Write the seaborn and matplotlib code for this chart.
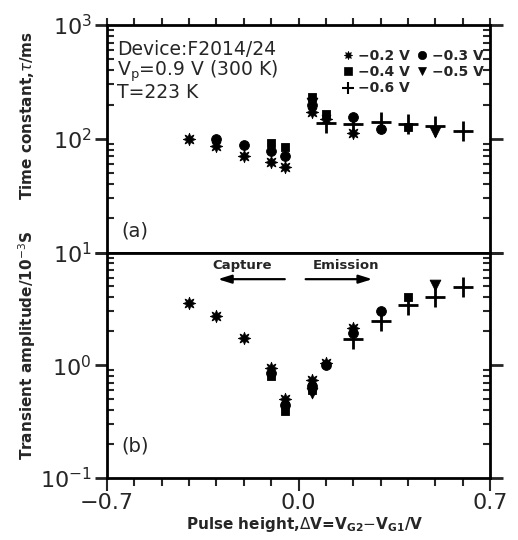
import numpy as np
import pandas as pd
import seaborn as sns
import matplotlib
matplotlib.use("Agg")
import matplotlib.pyplot as plt
from matplotlib.ticker import FixedLocator, LogLocator, NullFormatter, FixedFormatter, MultipleLocator
from matplotlib.lines import Line2D

nan = np.nan

# Pulse height ΔV (V)
pulse = [-0.4, -0.3, -0.2, -0.1, -0.05, 0.05, 0.1, 0.2, 0.3, 0.4, 0.5, 0.6]

# Base gate voltages
series = ["\u22120.2 V", "\u22120.3 V", "\u22120.4 V", "\u22120.5 V", "\u22120.6 V"]

# (a) Time constant τ (ms)
tau_m02 = [100, 87, 70, 62, 57, 172, 150, 112, nan, nan, nan, nan]
tau_m03 = [nan, 100, 88, 78, 70, 197, nan, 155, 123, nan, nan, nan]
tau_m04 = [nan, nan, nan, 92, 84, 233, 165, nan, nan, 126, nan, nan]
tau_m05 = [nan, nan, nan, nan, nan, 205, nan, nan, nan, nan, 115, nan]
tau_m06 = [nan, nan, nan, nan, nan, nan, 138, 134, 141, 136, 129, 116]

# (b) Transient amplitude (10^-3 S)
amp_m02 = [3.55, 2.71, 1.74, 0.95, 0.50, 0.74, 1.04, 2.15, nan, nan, nan, nan]
amp_m03 = [nan, nan, nan, 0.86, 0.44, 0.66, 1.00, 1.95, 3.00, nan, nan, nan]
amp_m04 = [nan, nan, nan, 0.80, 0.39, 0.60, nan, nan, nan, 4.06, nan, nan]
amp_m05 = [nan, nan, nan, nan, nan, 0.57, nan, nan, nan, nan, 5.15, nan]
amp_m06 = [nan, nan, nan, nan, nan, nan, nan, 1.72, 2.45, 3.43, 4.00, 4.98]

x_ticks = [-0.7, 0.0, 0.7]
x_ticklabels = ["\u22120.7", "0.0", "0.7"]

tau_table = pd.DataFrame({"pulse": pulse, series[0]: tau_m02, series[1]: tau_m03,
                          series[2]: tau_m04, series[3]: tau_m05, series[4]: tau_m06})
amp_table = pd.DataFrame({"pulse": pulse, series[0]: amp_m02, series[1]: amp_m03,
                          series[2]: amp_m04, series[3]: amp_m05, series[4]: amp_m06})

sns.set_style("white")
plt.rcParams["font.family"] = ["DejaVu Sans"]
plt.rcParams["mathtext.fontset"] = "dejavusans"

W, H = 518, 540
fig = plt.figure(figsize=(W / 100, H / 100), dpi=100)

def fx(px):
    return px / W

def fy(py):
    return 1 - py / H

left, right = 107, 490
ax_top = fig.add_axes([fx(left), fy(252.5), fx(right - left), (252.5 - 25) / H])
ax_bot = fig.add_axes([fx(left), fy(478), fx(right - left), (478 - 252.5) / H])

styles = {
    series[0]: dict(marker=(8, 1, 0), s=80, linewidth=0.6),
    series[1]: dict(marker="o", s=50, linewidth=0.6),
    series[2]: dict(marker="s", s=40, linewidth=0.6),
    series[3]: dict(marker="v", s=60, linewidth=0.6),
    series[4]: dict(marker="+", s=220, linewidth=2.0),
}

for ax, table in ((ax_top, tau_table), (ax_bot, amp_table)):
    for name in series:
        st = styles[name]
        sns.scatterplot(data=table, x="pulse", y=name, ax=ax, color="black",
                        edgecolor="black", marker=st["marker"], s=st["s"],
                        linewidth=st["linewidth"], zorder=3, legend=False)
    ax.set_yscale("log")
    ax.set_xlim(-0.7, 0.7)
    ax.set_xlabel("")
    ax.set_ylabel("")
    for sp in ax.spines.values():
        sp.set_linewidth(2.0)
        sp.set_color("black")
    ax.xaxis.set_major_locator(FixedLocator(x_ticks))
    ax.xaxis.set_minor_locator(MultipleLocator(0.1))
    ax.yaxis.set_minor_locator(LogLocator(base=10, subs=np.arange(2, 10)))
    ax.yaxis.set_minor_formatter(NullFormatter())
    ax.tick_params(axis="y", which="major", direction="out", length=9, width=2,
                   left=True, right=True, labelsize=16, pad=2)
    ax.tick_params(axis="y", which="minor", direction="in", length=5, width=1.5,
                   left=True, right=True)

ax_top.set_ylim(10, 1000)
ax_top.yaxis.set_major_locator(FixedLocator([10, 100, 1000]))
ax_top.yaxis.set_major_formatter(FixedFormatter([r"$10^{1}$", r"$10^{2}$", r"$10^{3}$"]))
ax_top.tick_params(axis="x", which="both", direction="out", top=True, bottom=False,
                   labelbottom=False, labeltop=False, length=5, width=1.5)

ax_bot.set_ylim(0.1, 10)
ax_bot.yaxis.set_major_locator(FixedLocator([0.1, 1, 10]))
ax_bot.yaxis.set_major_formatter(FixedFormatter([r"$10^{-1}$", r"$10^{0}$", ""]))
ax_bot.tick_params(axis="x", which="both", direction="out", top=False, bottom=True,
                   length=6, width=1.5)
ax_bot.tick_params(axis="x", which="major", length=9, labelsize=16, pad=2)
ax_bot.xaxis.set_major_formatter(FixedFormatter(x_ticklabels))

# Legend: rows (−0.2, −0.3), (−0.4, −0.5), (−0.6)
order = [0, 2, 4, 1, 3]
handles = []
for i in order:
    st = styles[series[i]]
    mk = st["marker"]
    handles.append(Line2D([], [], linestyle="", marker=mk, color="black",
                          markersize=6 if mk != "+" else 8, markeredgewidth=1.5 if mk == "+" else 0.5))
ax_top.legend(handles, [series[i] for i in order], ncol=2, loc="upper right",
              bbox_to_anchor=(1.005, 0.93), frameon=False, handlelength=0.6,
              handletextpad=0.4, columnspacing=0.6, labelspacing=0.15,
              prop=dict(size=10, weight="bold"), borderaxespad=0.2)

# Device annotation
fig.text(fx(117), fy(40), "Device:F2014/24\n" + r"V$_\mathregular{p}$=0.9 V (300 K)" + "\nT=223 K",
         fontsize=13.5, va="top", ha="left", linespacing=0.95)
fig.text(fx(121), fy(236), "(a)", fontsize=14, va="baseline")
fig.text(fx(121), fy(451), "(b)", fontsize=14, va="baseline")

# Capture / Emission arrows
arrow_y = 5.8
ax_bot.annotate("", xy=(-0.305, arrow_y), xytext=(-0.04, arrow_y),
                arrowprops=dict(arrowstyle="-|>,head_length=0.8,head_width=0.25", lw=1.6, color="black"))
ax_bot.annotate("", xy=(0.28, arrow_y), xytext=(0.016, arrow_y),
                arrowprops=dict(arrowstyle="-|>,head_length=0.8,head_width=0.25", lw=1.6, color="black"))
ax_bot.text(-0.207, 7.7, "Capture", ha="center", va="center", fontsize=9.5, fontweight="bold")
ax_bot.text(0.174, 7.7, "Emission", ha="center", va="center", fontsize=9.5, fontweight="bold")

# Axis titles
fig.text(fx(27), fy(115), r"Time constant,$\tau$/ms", rotation=90, ha="center", va="center",
         fontsize=11, fontweight="bold")
fig.text(fx(27), fy(345), r"Transient amplitude/10$^{-3}$S", rotation=90, ha="center", va="center",
         fontsize=11, fontweight="bold")
fig.text(fx(305), fy(525), r"Pulse height,$\Delta$V=V$_\mathregular{G2}$$-$V$_\mathregular{G1}$/V",
         ha="center", va="center", fontsize=11, fontweight="bold")

fig.savefig("out.png", dpi=100)
